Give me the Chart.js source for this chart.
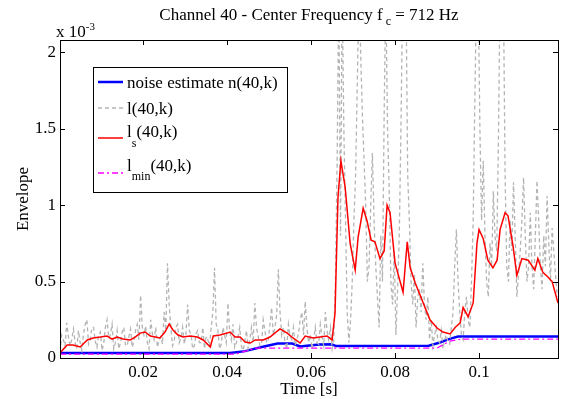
<!DOCTYPE html>
<html>
<head>
<meta charset="utf-8">
<script src="https://cdn.jsdelivr.net/npm/chart.js@4.4.1/dist/chart.umd.min.js"></script>
<style>
  html, body { margin: 0; padding: 0; background: #fff; }
  #wrap { width: 564px; height: 399px; }
</style>
</head>
<body>
<div id="wrap"><canvas id="myChart" width="564" height="399"></canvas></div>
<script>
// values are in units of 10^-3, time in seconds
const xTicks = [0.02, 0.04, 0.06, 0.08, 0.1];
const yTicks = [0, 0.5, 1, 1.5, 2];

// raw envelope l(40,k), sampled every 0.4 ms starting at 0.2 ms
const rawStep = 0.0004;
const rawEnv = [
  0.04, 0.15, 0.12, 0.08, 0.23, 0.14, 0.08, 0.12, 0.19, 0.10,
  0.06, 0.18, 0.10, 0.05, 0.16, 0.22, 0.25, 0.09, 0.12, 0.20,
  0.20, 0.11, 0.07, 0.15, 0.17, 0.05, 0.09, 0.20, 0.25, 0.13,
  0.15, 0.22, 0.06, 0.10, 0.18, 0.06, 0.10, 0.17, 0.20, 0.08,
  0.08, 0.14, 0.19, 0.07, 0.11, 0.18, 0.22, 0.12, 0.41, 0.20,
  0.15, 0.21, 0.10, 0.06, 0.25, 0.16, 0.12, 0.20, 0.07, 0.12,
  0.14, 0.09, 0.30, 0.18, 0.62, 0.35, 0.20, 0.08, 0.11, 0.20,
  0.22, 0.10, 0.13, 0.20, 0.09, 0.16, 0.35, 0.18, 0.15, 0.06,
  0.08, 0.16, 0.18, 0.10, 0.10, 0.20, 0.06, 0.14, 0.12, 0.08,
  0.20, 0.30, 0.59, 0.22, 0.18, 0.06, 0.09, 0.20, 0.15, 0.10,
  0.36, 0.18, 0.12, 0.22, 0.07, 0.10, 0.14, 0.20, 0.08, 0.05,
  0.10, 0.18, 0.06, 0.12, 0.20, 0.10, 0.36, 0.20, 0.14, 0.08,
  0.09, 0.25, 0.18, 0.10, 0.12, 0.22, 0.33, 0.15, 0.20, 0.28,
  0.58, 0.30, 0.15, 0.20, 0.10, 0.06, 0.22, 0.14, 0.12, 0.20,
  0.08, 0.12, 0.16, 0.25, 0.30, 0.15, 0.37, 0.20, 0.10, 0.15,
  0.06, 0.12, 0.20, 0.10, 0.09, 0.22, 0.14, 0.08, 0.30, 0.18,
  0.12, 0.20, 0.06, 0.12, 0.50, 1.30, 2.40, 0.80, 2.40, 1.50,
  0.90, 0.30, 0.10, 0.25, 0.50, 0.90, 1.20, 1.80, 2.40, 2.00,
  1.60, 1.30, 1.00, 0.50, 0.60, 1.00, 1.34, 0.90, 0.60, 0.40,
  0.20, 0.80, 0.50, 1.60, 2.40, 1.50, 1.10, 0.50, 0.35, 0.70,
  0.15, 0.45, 0.80, 1.50, 2.40, 2.40, 2.40, 1.20, 0.90, 0.50,
  0.35, 0.55, 0.20, 0.40, 0.45, 0.30, 0.62, 0.35, 0.25, 0.40,
  0.12, 0.25, 0.08, 0.15, 0.20, 0.12, 0.10, 0.18, 0.06, 0.12,
  0.15, 0.10, 0.09, 0.20, 0.30, 0.60, 0.84, 0.50, 0.30, 0.15,
  0.12, 0.30, 0.40, 0.25, 0.20, 0.50, 0.90, 1.70, 2.40, 2.40,
  1.50, 0.90, 1.29, 0.80, 0.50, 0.40, 0.75, 0.60, 1.09, 0.80,
  0.70, 1.40, 2.40, 2.40, 2.40, 1.20, 0.60, 0.50, 0.90, 0.70,
  1.15, 0.80, 0.40, 0.55, 0.70, 0.90, 1.18, 0.80, 0.50, 0.60,
  0.95, 0.60, 0.45, 0.80, 1.16, 0.90, 0.60, 0.45, 0.80, 0.60,
  1.06, 0.75, 0.50, 0.85, 0.70, 0.55, 0.40
];
const rawTime = rawEnv.map((_, i) => 0.0002 + i * rawStep);

// smoothed envelope l_s(40,k)
const smoothTime = [
  0.0002, 0.0019, 0.0033, 0.0050, 0.0067, 0.0081, 0.0098, 0.0114, 0.0126, 0.0138,
  0.0152, 0.0169, 0.0181, 0.0193, 0.0205, 0.0217, 0.0229, 0.0240, 0.0252, 0.0262,
  0.0271, 0.0283, 0.0295, 0.0312, 0.0329, 0.0343, 0.0360, 0.0367, 0.0383, 0.0400,
  0.0407, 0.0419, 0.0431, 0.0443, 0.0455, 0.0467, 0.0486, 0.0502, 0.0526, 0.0543,
  0.0557, 0.0574, 0.0586, 0.0605, 0.0621, 0.0638, 0.0650, 0.0657, 0.0664, 0.0671,
  0.0681, 0.0693, 0.0705, 0.0712, 0.0724, 0.0733, 0.0743, 0.0752, 0.0764, 0.0774,
  0.0781, 0.0788, 0.0800, 0.0819, 0.0829, 0.0836, 0.0848, 0.0867, 0.0883, 0.0900,
  0.0914, 0.0931, 0.0943, 0.0955, 0.0962, 0.0974, 0.0986, 0.0995, 0.1000, 0.1010,
  0.1021, 0.1033, 0.1043, 0.1050, 0.1062, 0.1069, 0.1081, 0.1090, 0.1102, 0.1117,
  0.1133, 0.1140, 0.1152, 0.1164, 0.1174, 0.1188
];
const smoothEnv = [
  0.033, 0.085, 0.085, 0.072, 0.118, 0.131, 0.137, 0.144, 0.124, 0.137,
  0.124, 0.118, 0.137, 0.163, 0.170, 0.144, 0.137, 0.131, 0.170, 0.222,
  0.183, 0.150, 0.137, 0.144, 0.137, 0.118, 0.072, 0.144, 0.150, 0.163,
  0.170, 0.137, 0.137, 0.105, 0.098, 0.118, 0.118, 0.137, 0.190, 0.163,
  0.131, 0.098, 0.144, 0.131, 0.137, 0.144, 0.118, 0.294, 1.050, 1.290,
  1.120, 0.750, 0.575, 0.790, 0.980, 0.900, 0.770, 0.760, 0.650, 0.700,
  1.000, 0.950, 0.620, 0.430, 0.760, 0.590, 0.490, 0.360, 0.250, 0.196,
  0.170, 0.157, 0.200, 0.230, 0.330, 0.270, 0.360, 0.750, 0.840, 0.780,
  0.640, 0.590, 0.640, 0.840, 0.950, 0.930, 0.730, 0.540, 0.650, 0.640,
  0.575, 0.650, 0.560, 0.530, 0.500, 0.360
];

// noise estimate n(40,k)
const noiseTime = [0.0002, 0.0407, 0.0443, 0.0480, 0.0520, 0.0555, 0.0574, 0.0590, 0.0620, 0.0648, 0.0660, 0.0880, 0.0905, 0.0930, 0.0950, 0.1188];
const noiseEst = [0.033, 0.033, 0.045, 0.070, 0.095, 0.095, 0.075, 0.080, 0.088, 0.090, 0.078, 0.080, 0.100, 0.125, 0.140, 0.140];

// minimum l_min(40,k)
const minTime = [0.0002, 0.0420, 0.0450, 0.0470, 0.0900, 0.0930, 0.0960, 0.1188];
const minEnv = [0.026, 0.026, 0.050, 0.065, 0.065, 0.110, 0.124, 0.124];

const serif = '"Liberation Serif", "Times New Roman", serif';
const big = '17px ' + serif;
const small = '12px ' + serif;

function pts(ts, vs) {
    return ts.map((t, i) => ({ x: t, y: vs[i] }));
}

// box, inward ticks, titles and legend in the MATLAB style
const decorations = {
    id: 'decorations',
    afterDraw(chart) {
        const c = chart.ctx;
        const a = chart.chartArea;
        const xs = chart.scales.x, ys = chart.scales.y;
        c.save();
        c.strokeStyle = '#000';
        c.lineWidth = 1;
        c.strokeRect(a.left + 0.5, a.top + 0.5, a.right - a.left, a.bottom - a.top);
        c.beginPath();
        xTicks.forEach(t => {
            const px = Math.round(xs.getPixelForValue(t)) + 0.5;
            c.moveTo(px, a.bottom); c.lineTo(px, a.bottom - 5);
            c.moveTo(px, a.top); c.lineTo(px, a.top + 5);
        });
        yTicks.forEach(v => {
            const py = Math.round(ys.getPixelForValue(v)) + 0.5;
            c.moveTo(a.left, py); c.lineTo(a.left + 5, py);
            c.moveTo(a.right, py); c.lineTo(a.right - 5, py);
        });
        c.stroke();

        c.fillStyle = '#000';
        c.textBaseline = 'alphabetic';

        // title with subscript
        const t1 = 'Channel 40 - Center Frequency f', t2 = ' = 712 Hz';
        c.font = big;
        const w1 = c.measureText(t1).width;
        const w2 = c.measureText(t2).width;
        c.font = small;
        const ws = c.measureText(' c').width;
        let x0 = (a.left + a.right) / 2 - (w1 + ws + w2) / 2;
        c.font = big;
        c.fillText(t1, x0, 20);
        c.font = small;
        c.fillText(' c', x0 + w1, 25);
        c.font = big;
        c.fillText(t2, x0 + w1 + ws, 20);

        // exponent label
        c.font = big;
        c.fillText('x 10', 56, 37);
        const wx = c.measureText('x 10').width;
        c.font = '11px ' + serif;
        c.fillText('-3', 56 + wx, 30);

        // axis titles
        c.font = big;
        c.textAlign = 'center';
        c.fillText('Time [s]', (a.left + a.right) / 2, 394);
        c.save();
        c.translate(28, (a.top + a.bottom) / 2);
        c.rotate(-Math.PI / 2);
        c.fillText('Envelope', 0, 0);
        c.restore();
        c.textAlign = 'left';

        // legend
        const lx = 93, ly = 67, lw = 194, lh = 125;
        c.fillStyle = '#fff';
        c.fillRect(lx, ly, lw, lh);
        c.strokeStyle = '#000';
        c.strokeRect(lx + 0.5, ly + 0.5, lw, lh);
        const rows = [
            { y: 82, color: '#0000ff', width: 2.5, dash: [] },
            { y: 108, color: '#b4b4b4', width: 1.3, dash: [4, 3] },
            { y: 138, color: '#ff0000', width: 1.5, dash: [] },
            { y: 173, color: '#ff00ff', width: 1.3, dash: [6, 3, 2, 3] }
        ];
        rows.forEach(r => {
            c.beginPath();
            c.strokeStyle = r.color;
            c.lineWidth = r.width;
            c.setLineDash(r.dash);
            c.moveTo(98, r.y); c.lineTo(123, r.y);
            c.stroke();
        });
        c.setLineDash([]);
        c.fillStyle = '#000';
        c.font = big;
        c.fillText('noise estimate n(40,k)', 127, 88);
        c.fillText('l(40,k)', 127, 114);
        c.fillText('l', 127, 137);
        const wl = c.measureText('l').width;
        c.font = small;
        c.fillText('s', 127 + wl, 147);
        let wsub = c.measureText('s').width;
        c.font = big;
        c.fillText('(40,k)', 127 + wl + wsub, 137);
        c.fillText('l', 127, 171);
        c.font = small;
        c.fillText('min', 127 + wl, 180);
        wsub = c.measureText('min').width;
        c.font = big;
        c.fillText('(40,k)', 127 + wl + wsub, 171);
        c.restore();
    }
};

const ctx = document.getElementById('myChart').getContext('2d');

const chart = new Chart(ctx, {
    type: 'line',
    data: {
        datasets: [
            {
                label: 'noise estimate n(40,k)',
                data: pts(noiseTime, noiseEst),
                borderColor: '#0000ff',
                borderWidth: 2.5,
                order: 3
            },
            {
                label: 'l(40,k)',
                data: pts(rawTime, rawEnv),
                borderColor: '#b4b4b4',
                borderWidth: 1.3,
                borderDash: [4, 3],
                order: 2
            },
            {
                label: 'ls(40,k)',
                data: pts(smoothTime, smoothEnv),
                borderColor: '#ff0000',
                borderWidth: 1.5,
                order: 1
            },
            {
                label: 'lmin(40,k)',
                data: pts(minTime, minEnv),
                borderColor: '#ff00ff',
                borderWidth: 1.3,
                borderDash: [6, 3, 2, 3],
                order: 0
            }
        ]
    },
    options: {
        responsive: false,
        animation: false,
        layout: { padding: { left: 0, top: 40, right: 6, bottom: 0 } },
        elements: {
            point: { radius: 0 },
            line: { tension: 0, fill: false }
        },
        plugins: {
            legend: { display: false },
            tooltip: { enabled: false }
        },
        scales: {
            x: {
                type: 'linear',
                min: 0.0002,
                max: 0.1188,
                afterFit: s => { s.height = 41; },
                grid: { display: false, drawTicks: false },
                border: { display: false },
                afterBuildTicks: s => { s.ticks = xTicks.map(v => ({ value: v })); },
                ticks: {
                    color: '#000',
                    padding: 4,
                    maxRotation: 0,
                    font: { family: serif, size: 17 },
                    callback: v => String(v)
                }
            },
            y: {
                min: 0,
                max: 2.08,
                afterFit: s => { s.width = 60; },
                grid: { display: false, drawTicks: false },
                border: { display: false },
                afterBuildTicks: s => { s.ticks = yTicks.map(v => ({ value: v })); },
                ticks: {
                    color: '#000',
                    padding: 4,
                    font: { family: serif, size: 17 },
                    callback: v => String(v)
                }
            }
        }
    },
    plugins: [decorations]
});
</script>
</body>
</html>
